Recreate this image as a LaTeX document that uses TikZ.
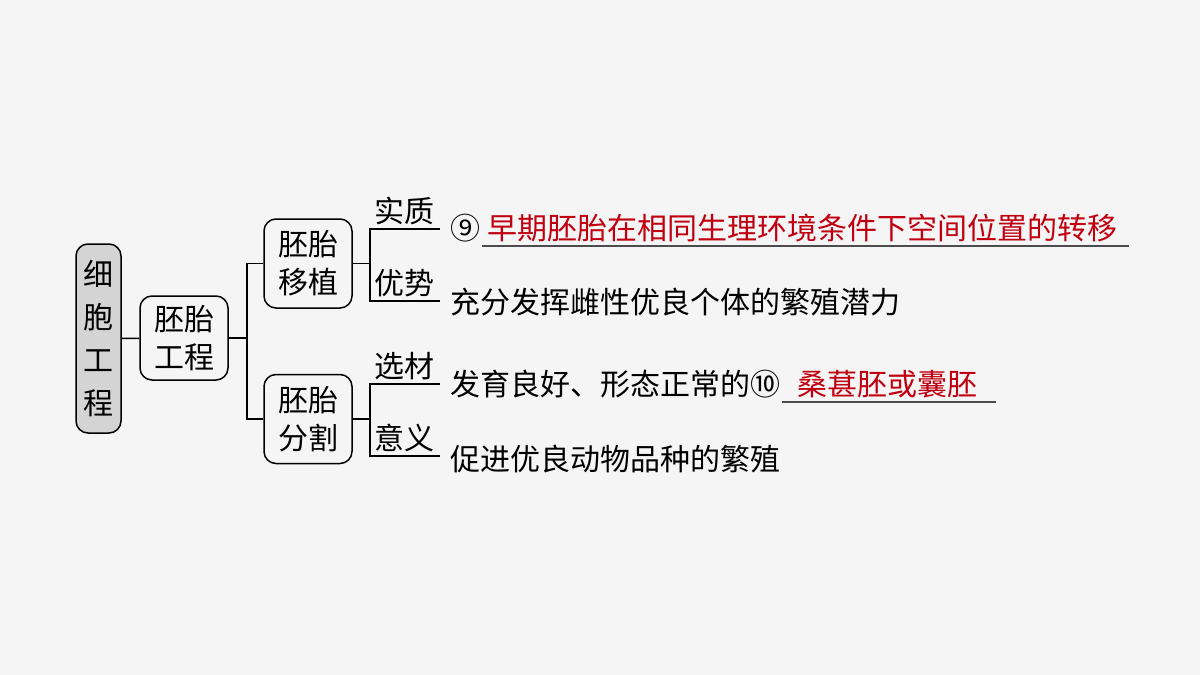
\documentclass[tikz,border=0pt]{standalone}
\usepackage{fontspec}
\setmainfont{Noto Sans CJK SC}
\usetikzlibrary{positioning}
\definecolor{answer}{RGB}{192,0,16}
\definecolor{paper}{RGB}{245,245,245}
\begin{document}
\begin{tikzpicture}[x=0.5pt, y=-0.5pt, line width=0.75pt,
   every node/.style={font=\fontsize{15}{19}\selectfont, text height=0.88em, text depth=0.12em},
   box/.style={draw, rounded corners=6pt, align=center, inner sep=0pt, text height={}, text depth={},
               minimum width=44pt, minimum height=44.5pt},
   rootbox/.style={box, fill=black!17, minimum width=22.5pt, minimum height=94.5pt,
                   font=\fontsize{15}{21.5}\selectfont},
   tag/.style={above, inner sep=1.5pt},
   txt/.style={anchor=west, inner xsep=0pt, inner ysep=1.5pt},
   blank/.style={draw=black!70, line width=0.9pt}]
\useasboundingbox[fill=paper] (0,0) rectangle (1200,675);

\node[rootbox] (cell) at (98.5,338.5) {细\\胞\\工\\程};
\node[box, minimum height=42pt] (embryo) at (184,338) {胚胎\\工程};
\node[box] (transfer) at (308,263.5) {胚胎\\移植};
\node[box] (split) at (308,419) {胚胎\\分割};

\draw (cell) -- (embryo);
\draw (embryo.east) -- ++(18,0) coordinate (ej);
\draw (transfer.west) -| (ej) |- (split.west);

\coordinate (t1) at (440,229);
\coordinate (t2) at (440,301);
\coordinate (s1) at (440,384);
\coordinate (s2) at (440,456);
\draw (transfer.east) -- ++(17,0) coordinate (tj);
\draw (t1) -- node[tag] {实质} (tj |- t1) -- (tj |- t2) -- node[tag] {优势} (t2);
\draw (split.east) -- ++(17,0) coordinate (sj);
\draw (s1) -- node[tag] {选材} (sj |- s1) -- (sj |- s2) -- node[tag] {意义} (s2);

\node[txt] (nine) at (450,232) {⑨};
\node[txt, answer, right=2.5pt of nine] (ans9) {早期胚胎在相同生理环境条件下空间位置的转移};
\draw[blank] (nine.south east) -- ([xshift=5.5pt]ans9.south east);
\node[txt] (merit) at (450,306) {充分发挥雌性优良个体的繁殖潜力};
\node[txt] (choose) at (450,388) {发育良好、形态正常的⑩};
\node[txt, answer, right=7.5pt of choose] (ans10) {桑葚胚或囊胚};
\draw[blank] (choose.south east) -- ([xshift=9pt]ans10.south east);
\node[txt] (use) at (450,463) {促进优良动物品种的繁殖};
\end{tikzpicture}
\end{document}
